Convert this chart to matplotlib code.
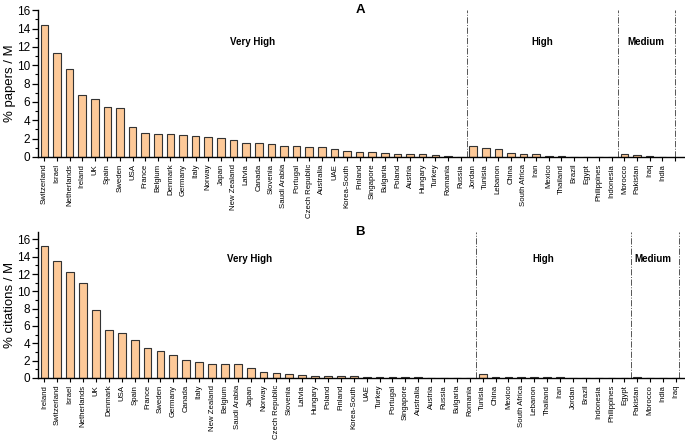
import matplotlib
matplotlib.use("Agg")
import matplotlib.pyplot as plt
import numpy as np

plt.rcParams['font.family'] = ['Liberation Sans', 'DejaVu Sans']

# groups (HDI level) and how many countries fall into each, left to right
groups = ["Very High", "High", "Medium"]
group_sizes = [34, 12, 4]

papers_countries = [
    "Switzerland", "Israel", "Netherlands", "Ireland", "UK", "Spain", "Sweden", "USA",
    "France", "Belgium", "Denmark", "Germany", "Italy", "Norway", "Japan", "New Zealand",
    "Latvia", "Canada", "Slovenia", "Saudi Arabia", "Portugal", "Czech Republic",
    "Australia", "UAE", "Korea-South", "Finland", "Singapore", "Bulgaria", "Poland",
    "Austria", "Hungary", "Turkey", "Romania", "Russia",
    "Jordan", "Tunisia", "Lebanon", "China", "South Africa", "Iran", "Mexico", "Thailand",
    "Brazil", "Egypt", "Philippines", "Indonesia",
    "Morocco", "Pakistan", "Iraq", "India",
]
papers_values = [
    14.36, 11.32, 9.55, 6.8, 6.27, 5.46, 5.34, 3.22,
    2.56, 2.55, 2.45, 2.34, 2.3, 2.22, 2.08, 1.84,
    1.55, 1.5, 1.39, 1.23, 1.15, 1.11,
    1.05, 0.89, 0.6, 0.5, 0.5, 0.4, 0.36,
    0.29, 0.28, 0.24, 0.15, 0.02,
    1.14, 1.0, 0.84, 0.43, 0.29, 0.28, 0.15, 0.05,
    0.04, 0.01, 0.005, 0.005,
    0.29, 0.17, 0.05, 0.04,
]

citations_countries = [
    "Ireland", "Switzerland", "Israel", "Netherlands", "UK", "Denmark", "USA", "Spain",
    "France", "Sweden", "Germany", "Canada", "Italy", "New Zealand", "Belgium",
    "Saudi Arabia", "Japan", "Norway", "Czech Republic", "Slovenia", "Latvia", "Hungary",
    "Poland", "Finland", "Korea-South", "UAE", "Turkey", "Portugal", "Singapore",
    "Australia", "Austria", "Russia", "Bulgaria", "Romania",
    "Tunisia", "China", "Mexico", "South Africa", "Lebanon", "Thailand", "Iran", "Jordan",
    "Brazil", "Indonesia", "Philippines", "Egypt",
    "Pakistan", "Morocco", "India", "Iraq",
]
citations_values = [
    15.27, 13.46, 12.27, 10.92, 7.85, 5.5, 5.23, 4.35,
    3.42, 3.08, 2.65, 2.12, 1.88, 1.65, 1.65,
    1.58, 1.12, 0.73, 0.58, 0.42, 0.35, 0.23,
    0.23, 0.23, 0.19, 0.12, 0.1, 0.07, 0.07,
    0.06, 0.01, 0.01, 0.0, 0.0,
    0.5, 0.12, 0.12, 0.1, 0.06, 0.06, 0.06, 0.02,
    0.01, 0.0, 0.0, 0.0,
    0.08, 0.02, 0.0, 0.0,
]

bar_color = "#fdc998"
shadow_color = "#a0a0a0"


def draw_panel(ax, countries, values, ylabel, letter, ymax, xmax, end_line, label_pos):
    x = np.arange(len(countries))
    ax.bar(x + 0.08, values, width=0.6, color=shadow_color, edgecolor="none", zorder=1)
    ax.bar(x, values, width=0.6, color=bar_color, edgecolor="#333333", linewidth=0.8, zorder=2)

    # ticks: one per slot, with an extra empty slot for the top panel
    nticks = int(np.floor(xmax)) + 1
    ax.set_xticks(np.arange(nticks))
    ax.set_xticklabels(countries + [""] * (nticks - len(countries)), rotation=90, fontsize=5.6)
    ax.set_xlim(-0.5, xmax)
    ax.set_ylim(0, ymax)
    ax.set_yticks(np.arange(0, 17, 2))
    ax.set_yticks(np.arange(1, 17, 2), minor=True)
    ax.tick_params(axis="y", labelsize=8.5, length=4, width=0.9, pad=1.5)
    ax.tick_params(axis="y", which="minor", length=2.5, width=0.8)
    ax.tick_params(axis="x", length=3, width=0.8, pad=2)
    ax.set_ylabel(ylabel, fontsize=9.5, labelpad=1)

    for s in ["top", "right"]:
        ax.spines[s].set_visible(False)
    for s in ["left", "bottom"]:
        ax.spines[s].set_linewidth(1.0)

    # group separators
    edges = np.cumsum(group_sizes)[:-1] - 0.5
    for e in list(edges) + [end_line]:
        ax.axvline(e, color="#555555", linestyle="-.", linewidth=0.7, zorder=0)

    for name, (gx, gy) in zip(groups, label_pos):
        ax.text(gx, gy, name, ha="center", va="center", fontsize=7, fontweight="bold")

    ax.text(0.498, 1.0, letter, transform=ax.transAxes, ha="center", va="center",
            fontsize=9.5, fontweight="bold")


fig = plt.figure(figsize=(6.85, 4.42), dpi=100)
ax1 = fig.add_axes([0.0555, 0.645, 0.9445, 0.332])
ax2 = fig.add_axes([0.0555, 0.145, 0.9445, 0.331])

draw_panel(ax1, papers_countries, papers_values, "% papers / M", "A", 16, 50.8, 50.0,
           [(16.5, 12.5), (39.5, 12.5), (47.7, 12.5)])
draw_panel(ax2, citations_countries, citations_values, "% citations / M", "B", 16.9, 49.7, 49.25,
           [(15.9, 13.7), (38.7, 13.7), (47.2, 13.7)])

fig.savefig("out.png", dpi=100)
